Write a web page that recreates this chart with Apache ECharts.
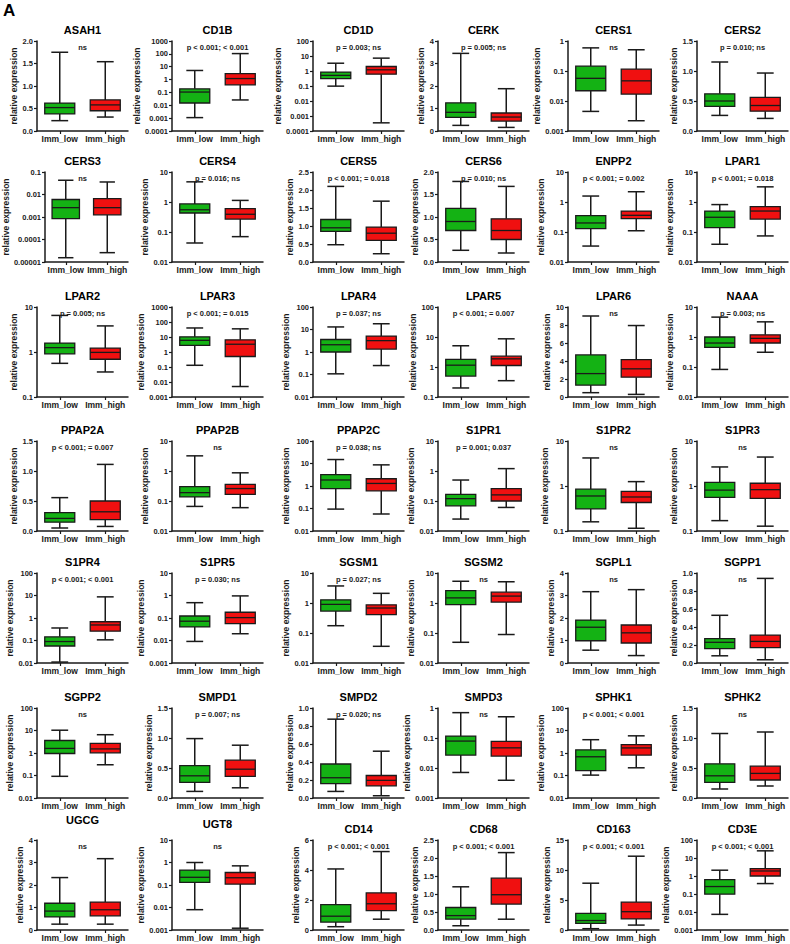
<!DOCTYPE html>
<html><head><meta charset="utf-8">
<script src="https://cdn.jsdelivr.net/npm/echarts@6/dist/echarts.min.js"></script>
<style>html,body{margin:0;padding:0;background:#fff}#c{width:790px;height:944px}</style>
</head><body><div id="c"></div><script>
// ---------- data ----------
const groups = ['Imm_low', 'Imm_high'];
const genes = ['ASAH1','CD1B','CD1D','CERK','CERS1','CERS2',
  'CERS3','CERS4','CERS5','CERS6','ENPP2','LPAR1',
  'LPAR2','LPAR3','LPAR4','LPAR5','LPAR6','NAAA',
  'PPAP2A','PPAP2B','PPAP2C','S1PR1','S1PR2','S1PR3',
  'S1PR4','S1PR5','SGSM1','SGSM2','SGPL1','SGPP1',
  'SGPP2','SMPD1','SMPD2','SMPD3','SPHK1','SPHK2',
  'UGCG','UGT8','CD14','CD68','CD163','CD3E'];
const pTexts = ['ns','p < 0.001; < 0.001','p = 0.003; ns','p = 0.005; ns','ns','p = 0.010; ns',
  'ns','p = 0.016; ns','p < 0.001; = 0.018','p = 0.010; ns','p < 0.001; = 0.002','p < 0.001; = 0.018',
  'p = 0.005; ns','p < 0.001; = 0.015','p = 0.037; ns','p < 0.001; = 0.007','ns','p = 0.003; ns',
  'p < 0.001; = 0.007','ns','p = 0.038; ns','p = 0.001; 0.037','ns','ns',
  'p < 0.001; < 0.001','p = 0.030; ns','p = 0.027; ns','ns','ns','ns',
  'ns','p = 0.007; ns','p = 0.020; ns','ns','p < 0.001; < 0.001','ns',
  'ns','ns','p < 0.001; < 0.001','p < 0.001; < 0.001','p < 0.001; < 0.001','p < 0.001; < 0.001'];
// y axis scale per panel: log (true) or linear
const axisLog = [false,true,true,false,true,false,
  true,true,false,false,true,true,
  true,true,true,true,false,true,
  false,true,true,true,true,true,
  true,true,true,true,false,false,
  true,false,false,true,true,false,
  false,true,false,false,false,true];
const axisMin = [0,0.0001,0.0001,0,0.001,0,
  0.00001,0.01,0,0,0.01,0.01,
  0.1,0.001,0.01,0.1,0,0.01,
  0,0.01,0.01,0.01,0.1,0.1,
  0.01,0.001,0.01,0.01,0,0,
  0.01,0,0,0.001,0.01,0,
  0,0.001,0,0,0,0.001];
const axisMax = [2,1000,100,4,1,1.5,
  0.1,10,2.5,2,10,10,
  10,1000,100,100,10,10,
  1.5,10,100,10,10,10,
  100,10,10,10,4,1,
  100,1.5,1,1,100,1.5,
  4,10,6,2.5,15,100];
const axisStep = [0.5,null,null,1,null,0.5,
  null,null,0.5,0.5,null,null,
  null,null,null,null,2,null,
  0.5,null,null,null,null,null,
  null,null,null,null,1,0.2,
  null,0.5,0.2,null,null,0.5,
  1,null,2,0.5,5,null];
// five-number summaries [min, Q1, median, Q3, max]
const lowBox = [
  [0.23,0.38,0.52,0.62,1.75],[0.0011,0.015,0.107,0.19,5.1],[0.098,0.31,0.51,0.85,3.3],
  [0.25,0.61,0.83,1.25,3.45],[0.0045,0.022,0.057,0.145,0.59],[0.26,0.41,0.50,0.62,1.15],
  [0.0000155,0.00085,0.0026,0.006,0.043],[0.043,0.43,0.55,0.86,4.7],[0.48,0.85,0.95,1.18,2.1],
  [0.26,0.70,0.90,1.19,1.79],[0.034,0.13,0.2,0.35,1.58],[0.039,0.14,0.31,0.5,0.82],
  [0.56,0.91,1.25,1.58,6.5],[0.13,2.8,6,10.3,40],[0.107,1.0,2.1,3.6,13],
  [0.2,0.5,1.15,1.8,5.1],[0.48,1.32,2.6,4.67,9.0],[0.083,0.45,0.63,1.0,4.6],
  [0.05,0.147,0.21,0.305,0.556],[0.066,0.137,0.19,0.3,3.2],[0.094,0.76,1.85,3.2,15],
  [0.025,0.069,0.12,0.166,0.5],[0.16,0.31,0.60,0.85,4.2],[0.17,0.56,0.81,1.2,2.65],
  [0.011,0.057,0.09,0.145,0.36],[0.0091,0.04,0.072,0.123,0.48],[0.175,0.54,0.9,1.28,3.7],
  [0.049,0.88,1.48,2.6,5.3],[0.57,0.99,1.59,1.91,3.17],[0.08,0.16,0.23,0.27,0.53],
  [0.092,0.95,1.6,3.6,10.3],[0.11,0.26,0.37,0.54,0.99],[0.073,0.16,0.225,0.378,0.876],
  [0.0071,0.027,0.079,0.116,0.7],[0.104,0.166,0.68,1.38,3.9],[0.15,0.26,0.37,0.57,1.075],
  [0.26,0.58,0.84,1.19,2.33],[0.008,0.13,0.22,0.46,1.0],[0.22,0.53,0.92,1.69,4.07],
  [0.118,0.30,0.40,0.625,1.20],[0.22,1.09,1.58,2.78,7.8],[0.0074,0.098,0.26,0.63,2.1]];
const highBox = [
  [0.31,0.45,0.58,0.69,1.54],[0.026,0.39,1.2,2.9,105],[0.00035,0.61,1.2,2.0,7.2],
  [0.16,0.44,0.62,0.8,1.88],[0.0022,0.017,0.047,0.115,0.51],[0.21,0.33,0.425,0.56,0.966],
  [0.000026,0.00125,0.0026,0.0065,0.036],[0.07,0.27,0.39,0.6,1.13],[0.23,0.6,0.8,0.97,1.69],
  [0.20,0.50,0.70,0.96,1.68],[0.11,0.28,0.36,0.5,2.2],[0.074,0.27,0.5,0.7,3.2],
  [0.36,0.69,0.98,1.22,3.8],[0.005,0.5,3.3,6.5,35],[0.25,1.35,3.2,5.1,18],
  [0.35,1.12,1.87,2.3,8.7],[0.29,2.2,3.13,4.15,7.94],[0.31,0.63,0.9,1.18,3.2],
  [0.076,0.19,0.32,0.50,1.11],[0.06,0.166,0.26,0.36,0.87],[0.057,0.61,1.3,2.1,8.7],
  [0.061,0.1,0.16,0.26,1.2],[0.115,0.43,0.57,0.76,1.25],[0.128,0.53,0.83,1.15,4.4],
  [0.107,0.26,0.49,0.68,8.7],[0.02,0.056,0.104,0.18,0.96],[0.036,0.41,0.68,0.87,2.1],
  [0.089,1.07,1.7,2.3,5.1],[0.33,0.89,1.34,1.69,3.26],[0.036,0.17,0.24,0.31,0.94],
  [0.3,1.02,1.52,2.7,6.5],[0.17,0.36,0.48,0.63,0.88],[0.025,0.135,0.196,0.25,0.52],
  [0.0039,0.025,0.047,0.077,0.51],[0.22,0.81,1.68,2.35,5.8],[0.2,0.3,0.41,0.53,1.1],
  [0.26,0.63,0.90,1.24,3.17],[0.0012,0.11,0.21,0.36,0.71],[0.72,1.29,1.75,2.47,5.23],
  [0.30,0.72,0.98,1.44,2.15],[0.82,1.85,3.05,4.64,12.3],[0.38,1.0,1.9,2.6,25]];

// ---------- layout & style ----------
const colLeft = [37, 172, 313, 438, 568, 697];
const rowTop = [41, 172, 307, 441, 573, 708, 840];
const titleLift = {36: 9, 37: 5};
const PW = 91, PH = 90;
const FONT = '"Liberation Sans Narrow", "Arial Narrow", "Liberation Sans", Arial, sans-serif';
const INK = '#1a1a1a';
const COLORS = ['#14b214', '#f01010'];

function fmtLabel(i, v) {
  if (axisLog[i]) {
    const e = Math.round(Math.log10(v));
    return e >= 0 ? String(Math.pow(10, e)) : '0.' + '0'.repeat(-e - 1) + '1';
  }
  return v.toFixed(axisStep[i] < 1 ? 1 : 0);
}

const grids = [], xAxes = [], yAxes = [], series = [], graphics = [];
graphics.push({type: 'text', x: 3, y: 2, style: {text: 'A', fontSize: 17, fontWeight: 'bold', fontFamily: 'Liberation Sans, Arial, sans-serif', fill: '#000'}});

genes.forEach((g, i) => {
  const r = Math.floor(i / 6), c = i % 6;
  const left = colLeft[c], top = rowTop[r];
  grids.push({left: left, top: top, width: PW, height: PH});
  xAxes.push({
    gridIndex: i, type: 'category', data: groups, boundaryGap: true,
    axisLine: {show: true, lineStyle: {color: INK, width: 1.5}},
    axisTick: {show: true, alignWithLabel: true, length: 3, lineStyle: {color: INK, width: 1.2}},
    axisLabel: {interval: 0, margin: 3, fontSize: 8.5, fontWeight: 'bold', fontFamily: FONT, color: INK},
    splitLine: {show: false}
  });
  const y = {
    gridIndex: i, type: axisLog[i] ? 'log' : 'value',
    min: axisMin[i], max: axisMax[i],
    name: 'relative expression', nameLocation: 'middle', nameRotate: 90, nameGap: 6,
    nameTextStyle: {fontSize: 8.5, fontWeight: 'bold', fontFamily: FONT, color: INK},
    axisLine: {show: true, lineStyle: {color: INK, width: 1.5}},
    axisTick: {show: true, inside: false, length: 3, lineStyle: {color: INK, width: 1.2}},
    axisLabel: {margin: 4, fontSize: 7.5, fontWeight: 'bold', fontFamily: FONT, color: INK,
      showMinLabel: true, showMaxLabel: true, formatter: v => fmtLabel(i, v)},
    splitLine: {show: false}, minorTick: {show: false}
  };
  if (axisLog[i]) {
    y.logBase = 10;
    y.splitNumber = Math.round(Math.log10(axisMax[i] / axisMin[i]));
  } else {
    y.interval = axisStep[i];
  }
  yAxes.push(y);
  series.push({
    type: 'custom', xAxisIndex: i, yAxisIndex: i, clip: false,
    encode: {x: 0, y: [1, 2, 3, 4, 5]},
    data: [[0].concat(lowBox[i]), [1].concat(highBox[i])],
    renderItem: function (params, api) {
      const xi = api.value(0);
      const pMin = api.coord([xi, api.value(1)]);
      const pQ1 = api.coord([xi, api.value(2)]);
      const pMed = api.coord([xi, api.value(3)]);
      const pQ3 = api.coord([xi, api.value(4)]);
      const pMax = api.coord([xi, api.value(5)]);
      const band = api.size([1, 0])[0];
      const bw = band * 0.66, cw = band * 0.37, x = pMed[0];
      const ls = {stroke: INK, lineWidth: 1.5};
      return {type: 'group', children: [
        {type: 'line', shape: {x1: x, y1: pMax[1], x2: x, y2: pQ3[1]}, style: ls},
        {type: 'line', shape: {x1: x, y1: pQ1[1], x2: x, y2: pMin[1]}, style: ls},
        {type: 'line', shape: {x1: x - cw / 2, y1: pMax[1], x2: x + cw / 2, y2: pMax[1]}, style: ls},
        {type: 'line', shape: {x1: x - cw / 2, y1: pMin[1], x2: x + cw / 2, y2: pMin[1]}, style: ls},
        {type: 'rect', shape: {x: x - bw / 2, y: pQ3[1], width: bw, height: pQ1[1] - pQ3[1]},
          style: {fill: COLORS[xi], stroke: INK, lineWidth: 1.3}},
        {type: 'line', shape: {x1: x - bw / 2, y1: pMed[1], x2: x + bw / 2, y2: pMed[1]}, style: {stroke: INK, lineWidth: 1.3}}
      ]};
    }
  });
  const cx = left + PW / 2;
  graphics.push({type: 'text', x: cx, y: top - 11 - (titleLift[i] || 0),
    style: {text: g, align: 'center', verticalAlign: 'middle', fontSize: 11, fontWeight: 'bold', fontFamily: FONT, fill: '#000'}});
  graphics.push({type: 'text', x: cx, y: top + 6,
    style: {text: pTexts[i], align: 'center', verticalAlign: 'middle', fontSize: 7.5, fontWeight: 'bold', fontFamily: FONT, fill: INK}});
});

const chart = echarts.init(document.getElementById('c'), null, {renderer: 'svg', width: 790, height: 944});
chart.setOption({
  animation: false, backgroundColor: '#fff',
  grid: grids, xAxis: xAxes, yAxis: yAxes, series: series, graphic: graphics
});
</script></body></html>
